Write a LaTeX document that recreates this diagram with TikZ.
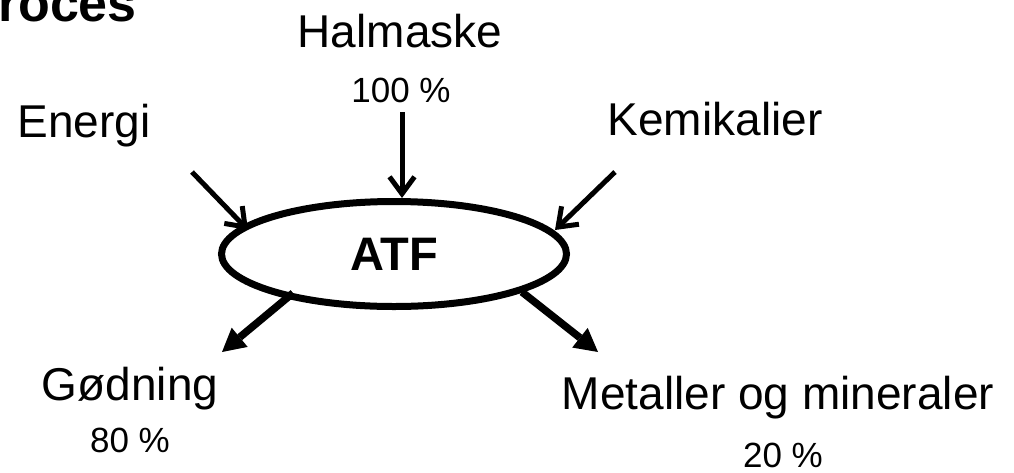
\documentclass[tikz,border=0pt]{standalone}
\usepackage{fontspec}
\setmainfont{Liberation Sans}
\usetikzlibrary{arrows.meta,shapes.geometric}
\begin{document}
\begin{tikzpicture}[x=1pt,y=-1pt,
  lbl/.style={anchor=base,inner sep=0pt,font=\fontsize{46}{50}\selectfont},
  pct/.style={anchor=base,inner sep=0pt,font=\fontsize{35}{40}\selectfont},
  inarrow/.style={line width=5pt,-{Straight Barb[length=17pt,width=25pt]}},
  outarrow/.style={line width=7.5pt,-{Triangle[length=23pt,width=25pt,line width=0pt]}},
  proc/.style={ellipse,draw,line width=7pt,inner sep=0pt,minimum width=345pt,minimum height=105pt,font=\bfseries\fontsize{47}{50}\selectfont}]
\useasboundingbox (0,0) rectangle (1014,472);
\clip (0,0) rectangle (1014,472);
\node[anchor=base east,inner sep=0pt,font=\bfseries\fontsize{52}{56}\selectfont] (title) at (137,21) {Proces};
\node[lbl] (halm) at (400,47) {Halmaske};
\node[pct] (halmp) at (401,102) {100 \%};
\node[lbl] (energi) at (84,137) {Energi};
\node[lbl] (kemi) at (715,135) {Kemikalier};
\node[lbl] (godn) at (130,400) {Gødning};
\node[pct] (godnp) at (130,452) {80 \%};
\node[lbl] (metal) at (778,409) {Metaller og mineraler};
\node[pct] (metalp) at (783,467) {20 \%};
\node[proc] (atf) at (394,254) {ATF};
\coordinate (a1s) at (192,172);
\coordinate (a1e) at (248,230);
\coordinate (a2s) at (402,112);
\coordinate (a2e) at (402,198);
\coordinate (a3s) at (615,172);
\coordinate (a3e) at (555,230);
\coordinate (b1s) at (293,293);
\coordinate (b1e) at (222,352);
\coordinate (b2s) at (522,292);
\coordinate (b2e) at (598,352);
\draw[inarrow] (a1s) -- (a1e);
\draw[inarrow] (a2s) -- (a2e);
\draw[inarrow] (a3s) -- (a3e);
\draw[outarrow] (b1s) -- (b1e);
\draw[outarrow] (b2s) -- (b2e);
\end{tikzpicture}
\end{document}
